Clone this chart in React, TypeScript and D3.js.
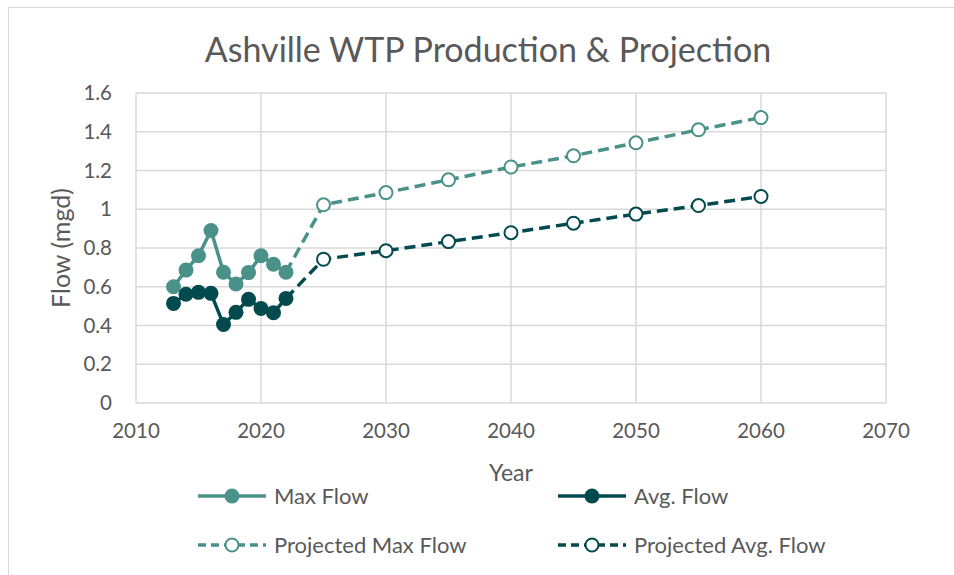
import React, { useEffect, useRef } from 'react';
import * as d3 from 'd3';

// observed years
const years = [2013, 2014, 2015, 2016, 2017, 2018, 2019, 2020, 2021, 2022];
const maxFlow = [0.6, 0.686, 0.76, 0.89, 0.675, 0.614, 0.673, 0.76, 0.716, 0.675];
const avgFlow = [0.514, 0.561, 0.571, 0.566, 0.405, 0.468, 0.535, 0.488, 0.466, 0.54];

// projections (first point joins the last observed year, no marker)
const projYears = [2022, 2025, 2030, 2035, 2040, 2045, 2050, 2055, 2060];
const projMaxFlow = [0.675, 1.023, 1.086, 1.152, 1.218, 1.276, 1.343, 1.41, 1.473];
const projAvgFlow = [0.54, 0.742, 0.786, 0.833, 0.879, 0.928, 0.975, 1.019, 1.066];

const xTicks = [2010, 2020, 2030, 2040, 2050, 2060, 2070];
const yTicks = [0, 0.2, 0.4, 0.6, 0.8, 1, 1.2, 1.4, 1.6];

const MAX_COLOR = '#4a918a';
const AVG_COLOR = '#024a4d';
const TEXT_COLOR = '#595959';
const FONT = 'Lato, "Open Sans", sans-serif';

const App = () => {
    const svgRef = useRef<SVGSVGElement>(null);

    useEffect(() => {
        const svg = d3.select(svgRef.current);
        svg.selectAll('*').remove();

        const width = 954, height = 575;
        const plot = { left: 136, right: 886, top: 93, bottom: 403 };

        const x = d3.scaleLinear().domain([2010, 2070]).range([plot.left, plot.right]);
        const y = d3.scaleLinear().domain([0, 1.6]).range([plot.bottom, plot.top]);

        // chart frame
        svg.append('rect')
            .attr('x', 8.5).attr('y', 7.5)
            .attr('width', width).attr('height', height)
            .attr('fill', '#fff')
            .attr('stroke', '#d9d9d9');

        // gridlines
        const grid = svg.append('g').attr('stroke', '#d9d9d9').attr('stroke-width', 1.5);
        yTicks.forEach(t => {
            grid.append('line')
                .attr('x1', plot.left).attr('x2', plot.right)
                .attr('y1', y(t)).attr('y2', y(t));
        });
        xTicks.forEach(t => {
            grid.append('line')
                .attr('x1', x(t)).attr('x2', x(t))
                .attr('y1', plot.top).attr('y2', plot.bottom);
        });

        // tick labels
        const labels = svg.append('g')
            .attr('fill', TEXT_COLOR)
            .style('font-family', FONT)
            .style('font-size', '20.5px');
        yTicks.forEach(t => {
            labels.append('text')
                .attr('x', plot.left - 24).attr('y', y(t))
                .attr('dy', '0.35em')
                .attr('text-anchor', 'end')
                .text(d3.format('~g')(t));
        });
        xTicks.forEach(t => {
            labels.append('text')
                .attr('x', x(t)).attr('y', plot.bottom + 35)
                .attr('text-anchor', 'middle')
                .text(t);
        });

        // titles
        svg.append('text')
            .attr('x', 488).attr('y', 62)
            .attr('text-anchor', 'middle')
            .attr('fill', TEXT_COLOR)
            .style('font-family', FONT)
            .style('font-size', '34px')
            .text('Ashville WTP Production & Projection');

        svg.append('text')
            .attr('x', 511).attr('y', 481)
            .attr('text-anchor', 'middle')
            .attr('fill', TEXT_COLOR)
            .style('font-family', FONT)
            .style('font-size', '23px')
            .text('Year');

        svg.append('text')
            .attr('transform', `translate(70, ${(plot.top + plot.bottom) / 2}) rotate(-90)`)
            .attr('text-anchor', 'middle')
            .attr('fill', TEXT_COLOR)
            .style('font-family', FONT)
            .style('font-size', '25px')
            .text('Flow (mgd)');

        const line = d3.line<[number, number]>()
            .x(d => x(d[0]))
            .y(d => y(d[1]));

        const drawSeries = (xs, ys, color, dashed, hideFirst) => {
            const pts: [number, number][] = xs.map((v, i) => [v, ys[i]]);
            svg.append('path')
                .attr('d', line(pts))
                .attr('fill', 'none')
                .attr('stroke', color)
                .attr('stroke-width', 3.5)
                .attr('stroke-dasharray', dashed ? '11 6' : null);

            svg.append('g')
                .selectAll('circle')
                .data(hideFirst ? pts.slice(1) : pts)
                .enter()
                .append('circle')
                .attr('cx', d => x(d[0]))
                .attr('cy', d => y(d[1]))
                .attr('r', dashed ? 6.5 : 7.5)
                .attr('fill', dashed ? '#fff' : color)
                .attr('stroke', color)
                .attr('stroke-width', dashed ? 2 : 0);
        };

        drawSeries(projYears, projMaxFlow, MAX_COLOR, true, true);
        drawSeries(projYears, projAvgFlow, AVG_COLOR, true, true);
        drawSeries(years, maxFlow, MAX_COLOR, false, false);
        drawSeries(years, avgFlow, AVG_COLOR, false, false);

        // legend
        const legendItems = [
            { label: 'Max Flow', color: MAX_COLOR, dashed: false, x: 198, y: 496 },
            { label: 'Avg. Flow', color: AVG_COLOR, dashed: false, x: 558, y: 496 },
            { label: 'Projected Max Flow', color: MAX_COLOR, dashed: true, x: 198, y: 545 },
            { label: 'Projected Avg. Flow', color: AVG_COLOR, dashed: true, x: 558, y: 545 },
        ];
        legendItems.forEach(item => {
            const g = svg.append('g').attr('transform', `translate(${item.x}, ${item.y})`);
            g.append('line')
                .attr('x1', 0).attr('x2', 68)
                .attr('y1', 0).attr('y2', 0)
                .attr('stroke', item.color)
                .attr('stroke-width', 3.5)
                .attr('stroke-dasharray', item.dashed ? '8 5' : null);
            g.append('circle')
                .attr('cx', 34).attr('cy', 0)
                .attr('r', item.dashed ? 6.5 : 7.5)
                .attr('fill', item.dashed ? '#fff' : item.color)
                .attr('stroke', item.color)
                .attr('stroke-width', item.dashed ? 2 : 0);
            g.append('text')
                .attr('x', 76).attr('y', 0)
                .attr('dy', '0.35em')
                .attr('fill', TEXT_COLOR)
                .style('font-family', FONT)
                .style('font-size', '22px')
                .text(item.label);
        });
    }, []);

    return (
        <svg ref={svgRef} width={954} height={575}
            style={{ position: 'absolute', left: 0, top: 0, display: 'block' }}></svg>
    );
};

export default App;
